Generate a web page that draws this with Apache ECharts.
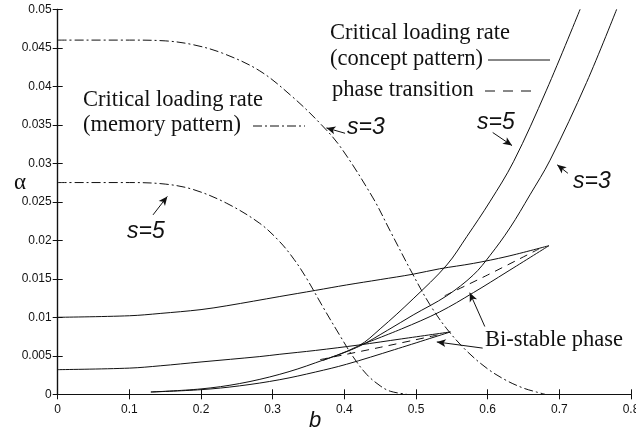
<!DOCTYPE html>
<html>
<head>
<meta charset="utf-8">
<script src="https://cdn.jsdelivr.net/npm/echarts@6/dist/echarts.min.js"></script>
<style>
  html, body { margin: 0; padding: 0; background: #fff; }
  #chart { width: 636px; height: 433px; }
</style>
</head>
<body>
<div id="chart"></div>
<script>
// tick labels
var xTicks = [0, 0.1, 0.2, 0.3, 0.4, 0.5, 0.6, 0.7, 0.8];
var yTicks = [0, 0.005, 0.01, 0.015, 0.02, 0.025, 0.03, 0.035, 0.04, 0.045, 0.05];

// critical loading rate, memory pattern (dash-dot)
var memS3 = [[0, 0.046], [0.1, 0.046], [0.15, 0.0459], [0.189, 0.0454], [0.23, 0.0443], [0.282, 0.042],
  [0.328, 0.0386], [0.366, 0.0352], [0.394, 0.0322], [0.44, 0.0255], [0.464, 0.0212], [0.496, 0.0155],
  [0.519, 0.0117], [0.543, 0.0085], [0.571, 0.0056], [0.6, 0.0033], [0.626, 0.0018], [0.65, 0.0008],
  [0.668, 0.0003], [0.68, 0]];
var memS5 = [[0, 0.0275], [0.1, 0.0275], [0.15, 0.0273], [0.189, 0.0266], [0.236, 0.0248], [0.282, 0.0222],
  [0.31, 0.0198], [0.33, 0.0175], [0.347, 0.0151], [0.371, 0.0112], [0.394, 0.0076], [0.412, 0.0049],
  [0.431, 0.0026], [0.45, 0.0011], [0.464, 0.0004], [0.487, 0]];

// critical loading rate, concept pattern (solid)
var conS3Upper = [[0, 0.0100], [0.1, 0.0102], [0.143, 0.0105], [0.2, 0.0110], [0.236, 0.0115], [0.31, 0.0127],
  [0.36, 0.0135], [0.403, 0.0142], [0.45, 0.0149], [0.496, 0.0156], [0.533, 0.0163], [0.58, 0.0170],
  [0.627, 0.0179], [0.6855, 0.0193]];
var conS3Lower = [[0.42, 0.0063], [0.48, 0.0085], [0.533, 0.0107], [0.58, 0.0132], [0.627, 0.0159], [0.6855, 0.0193]];
var conS5Upper = [[0, 0.0032], [0.1, 0.0034], [0.143, 0.0037], [0.2, 0.0042], [0.282, 0.0049], [0.31, 0.0052],
  [0.36, 0.0057], [0.42, 0.0064], [0.48, 0.0072], [0.548, 0.0081]];
var conS5Lower = [[0.13, 0.0003], [0.2, 0.0006], [0.254, 0.0011], [0.31, 0.0019], [0.36, 0.0029],
  [0.403, 0.0039], [0.47, 0.0058], [0.548, 0.0081]];
var conS5Steep = [[0.13, 0.0003], [0.2, 0.0007], [0.254, 0.0014], [0.31, 0.0026], [0.36, 0.0041], [0.42, 0.0063],
  [0.45, 0.0085], [0.496, 0.0124], [0.543, 0.0168], [0.571, 0.0205], [0.603, 0.0250], [0.636, 0.0302],
  [0.682, 0.0395], [0.729, 0.05]];
var conS3Steep = [[0.37, 0.0044], [0.42, 0.0062], [0.46, 0.0083], [0.496, 0.0103], [0.543, 0.0128], [0.58, 0.0155],
  [0.603, 0.0180], [0.631, 0.0216], [0.659, 0.0259], [0.687, 0.0304], [0.738, 0.0405], [0.78, 0.05]];

// phase transition (dashed)
var phaseS3 = [[0.54, 0.0128], [0.6, 0.0155], [0.672, 0.0189]];
var phaseS5 = [[0.366, 0.0045], [0.45, 0.0061], [0.53, 0.0077]];

// annotation arrows [from, to] in data units
var arrows = [
  [[0.401, 0.0339], [0.375, 0.0346]],
  [[0.607, 0.0340], [0.634, 0.0323]],
  [[0.712, 0.0287], [0.697, 0.0298]],
  [[0.133, 0.0233], [0.153, 0.0257]],
  [[0.596, 0.0088], [0.575, 0.0132]],
  [[0.593, 0.0060], [0.529, 0.0068]]
];

var ink = '#111';
var dashDot = [9, 3, 2, 3];

function lineSeries(data, type) {
  return {
    type: 'line',
    data: data,
    showSymbol: false,
    smooth: 0.35,
    silent: true,
    lineStyle: { color: ink, width: 1, type: type || 'solid' }
  };
}

var chart = echarts.init(document.getElementById('chart'));

var axisCommon = {
  type: 'value',
  axisLine: { show: true, lineStyle: { color: ink, width: 1.2 } },
  axisTick: { show: true, inside: true, length: 5, lineStyle: { color: ink } },
  splitLine: { show: false }
};

var series = [
  lineSeries(memS3, dashDot),
  lineSeries(memS5, dashDot),
  lineSeries(conS3Upper),
  lineSeries(conS3Lower),
  lineSeries(conS5Upper),
  lineSeries(conS5Lower),
  lineSeries(conS5Steep),
  lineSeries(conS3Steep),
  lineSeries(phaseS3, [8, 6]),
  lineSeries(phaseS5, [8, 6])
];
series.push({
  type: 'line',
  data: [],
  silent: true,
  markLine: {
    silent: true,
    symbol: ['none', 'arrow'],
    symbolSize: [6, 9],
    label: { show: false },
    lineStyle: { color: ink, width: 1, type: 'solid' },
    data: arrows.map(function (a) { return [{ coord: a[0] }, { coord: a[1] }]; })
  }
});

var serif = '"Liberation Serif", "DejaVu Serif", serif';
var sans = '"Liberation Sans", Arial, sans-serif';

function txt(x, y, s, size, family, italic) {
  return { type: 'text', x: x, y: y, style: { text: s, fontSize: size, fontFamily: family,
    fontStyle: italic ? 'italic' : 'normal', fill: ink, verticalAlign: 'middle' } };
}

chart.setOption({
  animation: false,
  grid: { left: 57.7, right: 5, top: 9.3, bottom: 38.7, outerBoundsMode: 'none', containLabel: false },
  xAxis: [
    Object.assign({}, axisCommon, {
      min: 0, max: 0.8, interval: 0.1, position: 'bottom',
      axisLabel: { color: ink, fontFamily: sans, fontSize: 12, margin: 9, hideOverlap: false,
        formatter: function (v) { return String(+v.toFixed(1)); } }
    }),
    Object.assign({}, axisCommon, {
      min: 0, max: 0.8, interval: 0.1, position: 'top',
      axisLabel: { show: false }
    })
  ],
  yAxis: [
    Object.assign({}, axisCommon, {
      min: 0, max: 0.05, interval: 0.005, position: 'left',
      axisLabel: { color: ink, fontFamily: sans, fontSize: 12, margin: 6,
        formatter: function (v) { return String(+v.toFixed(3)); } }
    }),
    Object.assign({}, axisCommon, {
      min: 0, max: 0.05, interval: 0.005, position: 'right',
      axisLabel: { show: false }
    })
  ],
  series: series,
  graphic: [
    txt(14, 183, 'α', 23, serif),
    txt(309, 421, 'b', 22, sans, true),

    txt(330, 33, 'Critical loading rate', 22.5, serif),
    txt(330, 59, '(concept pattern)', 22.5, serif),
    { type: 'line', shape: { x1: 488, y1: 60, x2: 550, y2: 60 }, style: { stroke: ink, lineWidth: 1 } },
    txt(332, 90, 'phase transition', 22.5, serif),
    { type: 'line', shape: { x1: 485, y1: 91, x2: 537, y2: 91 }, style: { stroke: ink, lineWidth: 1, lineDash: [10, 8] } },

    txt(83, 100, 'Critical loading rate', 22.5, serif),
    txt(83, 125, '(memory pattern)', 22.5, serif),
    { type: 'line', shape: { x1: 253, y1: 126, x2: 305, y2: 126 }, style: { stroke: ink, lineWidth: 1, lineDash: dashDot } },

    txt(347, 128, 's=3', 23, sans, true),
    txt(477, 123, 's=5', 23, sans, true),
    txt(573, 182, 's=3', 23, sans, true),
    txt(127, 232, 's=5', 23, sans, true),
    txt(485, 340, 'Bi-stable phase', 22.5, serif)
  ]
});
</script>
</body>
</html>
